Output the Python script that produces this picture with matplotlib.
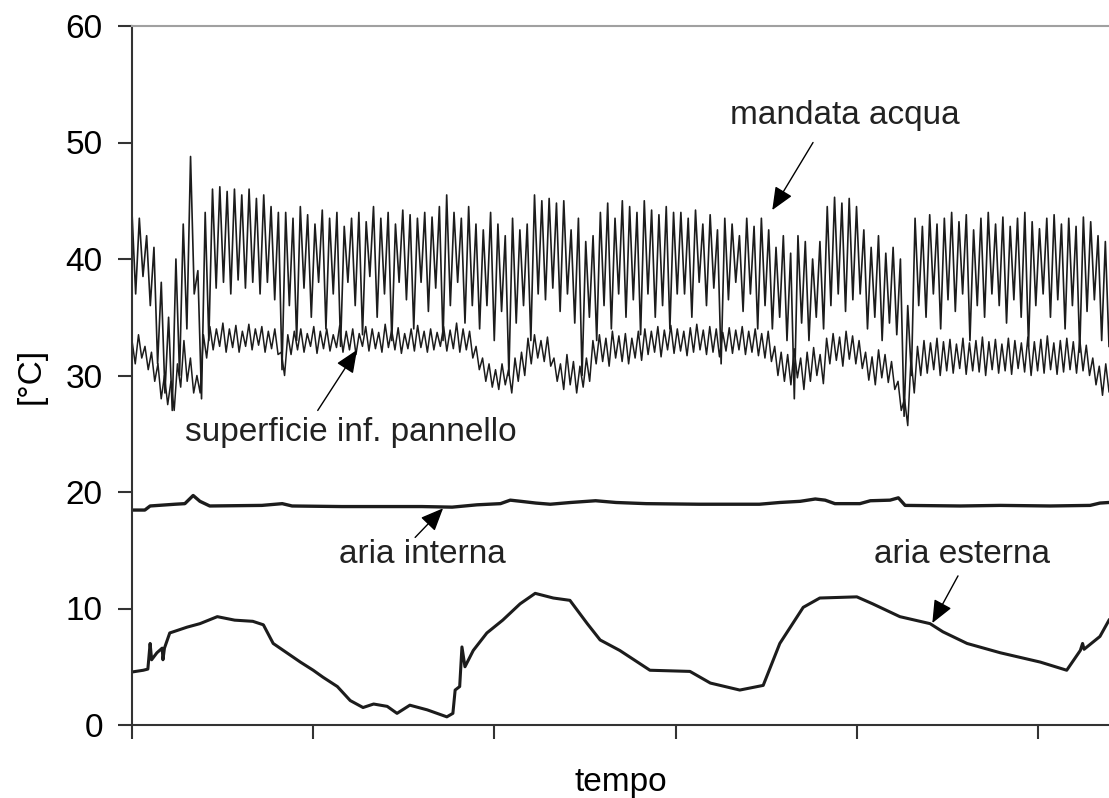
import matplotlib.pyplot as plt
import numpy as np

plt.rcParams['font.family'] = ['Liberation Sans', 'DejaVu Sans']

# time in hours, one x tick every 24 h
tick_ore = [0, 24, 48, 72, 96, 120]
y_ticks = [0, 10, 20, 30, 40, 50, 60]

# aria esterna: (ore, °C)
esterna_ore = [0.0, 1.5, 2.1, 2.4, 2.6, 3.3, 4.0, 4.1, 4.3, 5.0, 7.3, 9.0, 11.3, 13.6, 16.0,
               17.4, 18.7, 20.5, 22.3, 24.0, 25.3, 27.2, 28.9, 30.6, 32.0, 33.8, 35.1, 36.8,
               39.1, 41.7, 42.5, 42.8, 43.4, 43.7, 44.1, 45.2, 47.0, 49.1, 51.4, 53.4, 55.8,
               58.0, 60.3, 62.0, 64.6, 68.6, 73.9, 76.6, 80.5, 83.6, 85.8, 88.9, 91.1, 96.0,
               98.1, 101.7, 105.7, 107.4, 110.6, 115.0, 120.3, 123.8, 125.6, 125.9, 126.1,
               128.2, 129.4]
esterna_temp = [4.55, 4.7, 4.8, 7.0, 5.6, 6.2, 6.6, 5.6, 6.6, 7.9, 8.4, 8.7, 9.3, 9.0, 8.9,
                8.6, 7.0, 6.2, 5.4, 4.7, 4.1, 3.3, 2.1, 1.5, 1.8, 1.6, 1.0, 1.7,
                1.3, 0.7, 1.0, 3.0, 3.3, 6.7, 5.0, 6.4, 7.9, 9.0, 10.4, 11.3, 10.9,
                10.7, 8.7, 7.3, 6.4, 4.7, 4.6, 3.6, 3.0, 3.4, 7.0, 10.1, 10.9, 11.0,
                10.4, 9.3, 8.7, 8.0, 7.0, 6.2, 5.4, 4.7, 6.4, 7.0, 6.5,
                7.6, 9.0]

# aria interna
interna_ore = [0.0, 1.7, 2.4, 5.7, 7.0, 8.1, 9.0, 10.3, 17.2, 19.9, 21.2, 27.8, 38.4, 42.4,
               45.7, 48.8, 50.1, 51.5, 53.5, 55.4, 58.1, 61.4, 64.1, 68.1, 75.1, 83.1, 85.8,
               88.5, 90.5, 91.8, 93.1, 96.4, 97.8, 100.4, 101.5, 102.4, 109.7, 115.0, 121.6,
               126.9, 128.2, 129.4]
interna_temp = [18.45, 18.45, 18.8, 18.95, 19.0, 19.7, 19.2, 18.8, 18.85, 19.0, 18.8, 18.75,
                18.75, 18.7, 18.9, 19.0, 19.3, 19.2, 19.05, 18.95, 19.1, 19.25, 19.1, 19.0,
                18.95, 18.95, 19.1, 19.2, 19.4, 19.3, 19.0, 19.0, 19.25, 19.3, 19.5, 18.85,
                18.8, 18.85, 18.8, 18.85, 19.05, 19.1]

# mandata acqua: max and min of every pump cycle
mandata_alti = [44, 43.5, 42, 41, 38, 35, 40, 43, 48.8, 39,
                44, 46, 46.2, 45.8, 46, 45.5, 46, 45.2, 45.5, 44.5, 44,
                44, 43.5, 44.5, 43.8, 43, 44.2, 43.5, 44, 42.8, 43.5,
                44, 43.2, 44.5, 43.5, 44, 43, 44.2, 43.8, 43.5, 44,
                43.6, 44.5, 45.5, 44, 43.5, 44.5,
                43, 42.5, 44, 43, 42, 43.5, 42.5, 43,
                45.5, 45, 45.2, 44.8, 45, 42.5, 43.5, 41.5, 42,
                44, 44.8, 43.5, 45, 44.5, 44, 45, 44.2, 43.8, 44.5, 44,
                44, 43.5, 44.2, 43, 43.8, 42.5, 43.5, 43, 42, 43.5, 42.8, 43.5,
                42.5, 41, 42, 40.5, 42, 41.5, 40, 41.5,
                44.5, 45.3, 44.8, 45.2, 44.5, 42.5, 41, 42, 40.5, 41, 40, 36,
                43.5, 42.8, 43.8, 43, 43.5, 44, 43.2, 43.8, 42.5, 43.5,
                44, 43, 43.6, 42.8, 43.5, 44, 43.2, 42.6, 43.5, 43.8,
                43, 43.5, 42.8, 43.6, 43.2, 42, 41.5]
mandata_bassi = [37, 38.5, 36, 31, 28.5, 27, 30, 34, 37, 28,
                 33, 37.5, 38, 37, 38.2, 37.5, 38, 37, 38, 36.5, 30.5,
                 36, 33, 37.5, 35, 38, 34, 37, 32.5, 38, 36,
                 33.5, 38.5, 35, 37, 33, 38, 36.5, 34, 38, 35.5,
                 37.5, 33, 36, 38, 34.5, 36,
                 34, 36, 33, 35.5, 30, 34.5, 36, 33,
                 37, 36.5, 37.5, 35.5, 37, 34.5, 30, 35, 33,
                 36, 34, 37, 35, 36.5, 33.5, 37, 35, 36, 34, 37,
                 37, 35, 38, 36, 37.5, 31, 36.5, 38, 35.5, 37, 34, 36,
                 34, 35, 33, 28, 34.5, 33, 35, 34,
                 36, 37, 35.5, 36.5, 37, 34, 35, 33, 34.5, 33.5, 26.5, 30,
                 36, 35, 37, 34, 36.5, 35.5, 37, 33, 36, 35,
                 37, 36, 34.5, 36.5, 35, 32.5, 36, 37, 35, 36.5,
                 34, 36, 32, 35.5, 36.5, 33, 32.5]

# superficie inferiore del pannello: max and min of every cycle
pannello_alti = [33, 33.5, 32.5, 32, 31, 30, 29.5, 31, 33, 31.5, 30,
                 33.5, 34.2, 34, 34.5, 34, 34.3, 33.8, 34.4, 34, 34.2, 33.8, 34, 32,
                 33.5, 33.8, 34, 33.6, 34.2, 33.8, 34, 33.5, 34.3, 33.8,
                 34, 33.6, 34.2, 34, 33.7, 34.4, 33.9, 34.1, 33.6, 34,
                 34.3, 33.8, 34, 33.7, 34.2, 33.9, 34.5, 34, 33.8,
                 32.5, 31.5, 31, 30.5, 31, 30.5, 31.5, 32,
                 33.2, 33.5, 33, 33.3, 31.5, 31, 31.8, 31.2, 30.8, 31.5,
                 33, 33.5, 33.2, 33.8, 33.4, 33.6, 33.2, 33.8,
                 34, 33.8, 34.2, 33.9, 34.3, 34, 33.8, 34.1, 34.4, 33.9,
                 34.2, 34, 33.7, 34.1, 33.9, 34.2, 33.8, 34, 33.6, 33.8,
                 32.5, 32, 31.8, 32.3, 31.5, 32, 32.4, 31.8,
                 33.2, 33.6, 33.3, 33.8, 33.4, 33, 32, 31.6, 32.2, 31.8, 31.2, 29.5, 28,
                 31.5, 32.5, 33, 32.8, 33.2, 32.9, 33.1, 32.7, 33.2, 32.8,
                 33, 33.3, 32.9, 33.1, 32.7, 33.2, 33, 32.8, 33.3, 32.9,
                 33.1, 33.4, 32.8, 33, 33.2, 32.9, 33.1, 32.6, 31.5, 30.8, 31]
pannello_bassi = [31, 31.5, 30.5, 29.5, 28, 27.5, 27, 29, 29.5, 28.5, 28.5,
                  31.5, 32.2, 32.5, 32, 32.4, 32, 32.5, 32.2, 32.6, 32, 32.3, 31.8, 30,
                  31.8, 32.2, 32, 32.5, 31.9, 32.3, 32.1, 32.4, 32, 32.2,
                  31.8, 32.5, 32.1, 32.3, 32, 32.4, 32.2, 31.9, 32.3, 32.1,
                  32.4, 32, 32.2, 32.5, 32.1, 32.3, 32, 32.2, 31.5,
                  30.5, 29.5, 29, 28.8, 29.2, 28.5, 29.5, 30,
                  31, 31.5, 31.2, 30.8, 29.5, 28.8, 29.2, 28.5, 29, 29.5,
                  31, 31.2, 30.8, 31.5, 31.2, 31, 31.5, 31.3,
                  31.8, 32, 31.6, 32.2, 31.9, 32.1, 31.7, 32, 32.2, 31.8,
                  32, 31.6, 32.1, 31.9, 32.2, 31.8, 32, 31.7, 31.5, 31.2,
                  30, 29.5, 29.2, 29.8, 28.8, 29.5, 30, 29.3,
                  31, 31.3, 30.8, 31.4, 31, 30.6, 29.6, 29.2, 29.8, 29.4, 28.8, 27, 25.7,
                  28.5, 30, 30.2, 30.5, 30, 30.4, 30.2, 30.6, 30.1, 30.4,
                  30.3, 30, 30.5, 30.2, 30.4, 30.1, 30.6, 30.3, 30, 30.4,
                  30.2, 30.5, 30.1, 30.3, 30.5, 30.2, 30.4, 30, 29.2, 28.3, 28.6]

x_fine = 129.4  # right edge of the picture, in hours

fig = plt.figure(figsize=(11.09, 7.98), dpi=100)
ax = fig.add_axes([132 / 1109, 73 / 798, 977 / 1109, 699 / 798])

nero = '#1c1c1c'

mandata = np.column_stack([mandata_alti, mandata_bassi]).ravel()
ax.plot(np.linspace(0, x_fine, len(mandata)), mandata, color=nero, lw=1.2)

pannello = np.column_stack([pannello_alti, pannello_bassi]).ravel()
ax.plot(np.linspace(0, x_fine, len(pannello)), pannello, color=nero, lw=1.1)

ax.plot(interna_ore, interna_temp, color=nero, lw=2.4)
ax.plot(esterna_ore, esterna_temp, color=nero, lw=2.2)

ax.set_xlim(0, x_fine)
ax.set_ylim(0, 60)
ax.set_xticks(tick_ore)
ax.set_xticklabels([])
ax.set_yticks(y_ticks)

for side in ['left', 'bottom']:
    ax.spines[side].set_color('#333333')
    ax.spines[side].set_linewidth(1.5)
ax.spines['top'].set_color('#a0a0a0')
ax.spines['top'].set_linewidth(1.5)
ax.spines['right'].set_visible(False)

ax.tick_params(axis='both', direction='out', length=10, width=1.5, color='#333333',
               labelsize=24, pad=11)

ax.set_ylabel('[°C]', fontsize=24, labelpad=14)
ax.set_xlabel('tempo', fontsize=24, labelpad=9)

freccia = dict(arrowstyle='-|>,head_length=0.7,head_width=0.3', mutation_scale=20,
               color='black', lw=1.0, shrinkA=0, shrinkB=0)

etichette = [
    ('mandata acqua', (94.4, 52.3), (90.2, 50.0), (84.8, 44.2)),
    ('superficie inf. pannello', (29.0, 25.15), (24.6, 27.0), (29.8, 32.2)),
    ('aria interna', (38.4, 14.6), (37.5, 16.1), (41.2, 18.6)),
    ('aria esterna', (109.9, 14.6), (109.4, 12.8), (106.0, 8.75)),
]
for testo, pos, coda, punta in etichette:
    ax.text(pos[0], pos[1], testo, fontsize=24, ha='center', va='center', color='#222222')
    ax.annotate('', xy=punta, xytext=coda, arrowprops=freccia)

fig.savefig('out.png', dpi=100)
